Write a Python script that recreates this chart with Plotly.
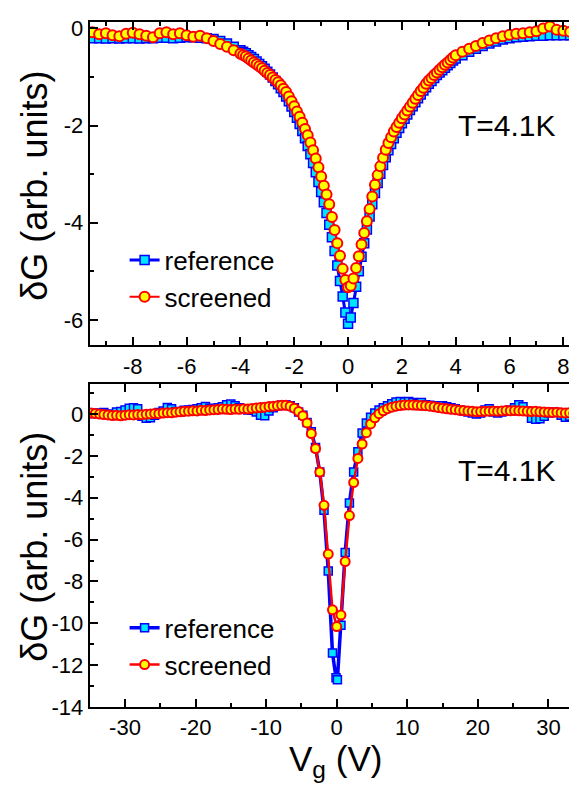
import plotly.graph_objects as go

FONT = "Liberation Sans, Arial, Helvetica, sans-serif"

# ---------------- top panel data (Vg in V, dG in arb. units) ----------------
VG_TOP = [
    -9.5, -9.25, -9.0, -8.75, -8.5, -8.25, -8.0, -7.75, -7.5, -7.25, -7.0,
    -6.75, -6.5, -6.25, -6.0, -5.75, -5.5, -5.25, -5.0, -4.75, -4.5, -4.25,
    -4.0, -3.9, -3.8, -3.7, -3.6, -3.5, -3.4, -3.3, -3.2, -3.1,
    -3.0, -2.9, -2.8, -2.7, -2.6, -2.5, -2.4, -2.3, -2.2, -2.1,
    -2.0, -1.9, -1.8, -1.7, -1.6, -1.5, -1.4, -1.3, -1.2, -1.1,
    -1.0, -0.9, -0.8, -0.7, -0.6, -0.5, -0.4, -0.3, -0.2, -0.1,
    0.0, 0.1, 0.2, 0.3, 0.4, 0.5, 0.6, 0.7, 0.8, 0.9,
    1.0, 1.1, 1.2, 1.3, 1.4, 1.5, 1.6, 1.7, 1.8, 1.9,
    2.0, 2.1, 2.2, 2.3, 2.4, 2.5, 2.6, 2.7, 2.8, 2.9,
    3.0, 3.1, 3.2, 3.3, 3.4, 3.5, 3.6, 3.7, 3.8, 3.9, 4.0,
    4.25, 4.5, 4.75, 5.0, 5.25, 5.5, 5.75, 6.0, 6.25, 6.5,
    6.75, 7.0, 7.25, 7.5, 7.75, 8.0, 8.25, 8.5, 8.75,
]

DG_TOP_REF = [
    -0.20, -0.20, -0.21, -0.20, -0.21, -0.20, -0.20, -0.21, -0.20, -0.20, -0.19,
    -0.19, -0.20, -0.19, -0.18, -0.18, -0.19, -0.20, -0.22, -0.26, -0.31, -0.38,
    -0.45, -0.48, -0.51, -0.55, -0.59, -0.63, -0.68, -0.73, -0.78, -0.83,
    -0.89, -0.95, -1.01, -1.08, -1.15, -1.23, -1.31, -1.40, -1.50, -1.61,
    -1.72, -1.84, -1.97, -2.11, -2.26, -2.42, -2.59, -2.77, -2.96, -3.16,
    -3.37, -3.58, -3.80, -4.04, -4.30, -4.58, -4.88, -5.20, -5.52, -5.85,
    -6.08, -5.95, -5.65, -5.32, -5.00, -4.70, -4.42, -4.14, -3.87, -3.62,
    -3.39, -3.18, -2.99, -2.81, -2.65, -2.51, -2.38, -2.26, -2.15, -2.05,
    -1.95, -1.86, -1.77, -1.68, -1.60, -1.52, -1.44, -1.36, -1.28, -1.21,
    -1.14, -1.08, -1.02, -0.96, -0.91, -0.86, -0.81, -0.76, -0.71, -0.66, -0.62,
    -0.55, -0.48, -0.42, -0.36, -0.31, -0.27, -0.23, -0.20, -0.18, -0.17,
    -0.16, -0.15, -0.15, -0.14, -0.14, -0.14, -0.14, -0.14, -0.14,
]

DG_TOP_SCR = [
    -0.08, -0.12, -0.10, -0.14, -0.16, -0.11, -0.09, -0.12, -0.15, -0.18, -0.10,
    -0.08, -0.12, -0.10, -0.14, -0.17, -0.15, -0.20, -0.26, -0.32, -0.38, -0.45,
    -0.52, -0.55, -0.58, -0.62, -0.66, -0.70, -0.74, -0.78, -0.82, -0.87,
    -0.92, -0.96, -1.01, -1.06, -1.11, -1.17, -1.24, -1.31, -1.40, -1.50,
    -1.60, -1.71, -1.82, -1.94, -2.07, -2.20, -2.35, -2.51, -2.68, -2.86,
    -3.05, -3.24, -3.42, -3.62, -3.88, -4.15, -4.42, -4.68, -4.95, -5.18,
    -5.33, -5.30, -5.15, -4.93, -4.69, -4.45, -4.21, -3.97, -3.72, -3.46,
    -3.22, -3.02, -2.84, -2.66, -2.50, -2.36, -2.24, -2.12, -2.03, -1.94,
    -1.85, -1.77, -1.69, -1.61, -1.53, -1.45, -1.37, -1.29, -1.22, -1.14,
    -1.07, -1.02, -0.96, -0.91, -0.85, -0.80, -0.75, -0.70, -0.65, -0.60, -0.55,
    -0.48, -0.42, -0.36, -0.30, -0.25, -0.20, -0.16, -0.13, -0.11, -0.10,
    -0.08, -0.06, 0.00, 0.04, -0.03, -0.05, -0.07, -0.09, -0.10,
]

# ---------------- bottom panel data ----------------
VG_BOT_SCR = [
    -34.8, -34.2, -33.6, -33.0, -32.4, -31.8, -31.2, -30.6, -30.0, -29.4,
    -28.8, -28.2, -27.6, -27.0, -26.4, -25.8, -25.2, -24.6, -24.0, -23.4,
    -22.8, -22.2, -21.6, -21.0, -20.4, -19.8, -19.2, -18.6, -18.0, -17.4,
    -16.8, -16.2, -15.6, -15.0, -14.4, -13.8, -13.2, -12.6, -12.0, -11.4,
    -10.8, -10.2, -9.6, -9.0, -8.4, -7.8, -7.2,
    -6.6, -6.0, -5.4, -4.8, -4.2, -3.6, -3.0, -2.4, -1.8, -1.2, -0.6,
    0.0, 0.6, 1.2, 1.8, 2.4, 3.0, 3.6, 4.2, 4.8, 5.4, 6.0,
    6.6, 7.2, 7.8, 8.4, 9.0, 9.6, 10.2, 10.8, 11.4, 12.0,
    12.6, 13.2, 13.8, 14.4, 15.0, 15.6, 16.2, 16.8, 17.4, 18.0,
    18.6, 19.2, 19.8, 20.4, 21.0, 21.6, 22.2, 22.8, 23.4, 24.0,
    24.6, 25.2, 25.8, 26.4, 27.0, 27.6, 28.2, 28.8, 29.4, 30.0,
    30.6, 31.2, 31.8, 32.4, 33.0, 33.6, 34.2, 34.8,
]

DG_BOT_SCR = [
    0.05, 0.03, 0.00, -0.02, -0.04, -0.07, -0.06, -0.08, -0.05, -0.03,
    -0.04, -0.02, -0.03, -0.01, 0.01, 0.03, 0.02, 0.05, 0.07, 0.06,
    0.09, 0.11, 0.13, 0.14, 0.16, 0.15, 0.18, 0.17, 0.20, 0.21,
    0.22, 0.24, 0.23, 0.22, 0.24, 0.23, 0.25, 0.24, 0.27, 0.29,
    0.31, 0.33, 0.36, 0.38, 0.40, 0.42, 0.42,
    0.38, 0.28, 0.12, -0.08, -0.42, -0.93, -1.65, -2.77, -4.36, -6.69, -9.36,
    -10.16, -9.61, -7.05, -4.85, -3.27, -2.12, -1.43, -0.89, -0.47, -0.18, 0.02,
    0.16, 0.26, 0.33, 0.38, 0.41, 0.43, 0.44, 0.43, 0.42, 0.41,
    0.40, 0.38, 0.35, 0.31, 0.28, 0.25, 0.23, 0.21, 0.18, 0.17,
    0.15, 0.13, 0.11, 0.12, 0.13, 0.14, 0.15, 0.14, 0.15, 0.17,
    0.16, 0.17, 0.16, 0.15, 0.13, 0.12, 0.13, 0.11, 0.10, 0.09,
    0.08, 0.09, 0.07, 0.05, 0.06, 0.03, -0.01, -0.03,
]

VG_BOT_REF = [
    -34.8, -34.2, -33.6, -33.0, -32.4, -31.8, -31.2, -30.6, -30.0, -29.4,
    -28.8, -28.2, -27.6, -27.0, -26.4, -25.8, -25.2, -24.6, -24.0, -23.4,
    -22.8, -22.2, -21.6, -21.0, -20.4, -19.8, -19.2, -18.6, -18.0, -17.4,
    -16.8, -16.2, -15.6, -15.0, -14.4, -13.8, -13.2, -12.6, -12.0, -11.4,
    -10.8, -10.2, -9.6, -9.0, -8.4, -7.8, -7.2,
    -6.6, -6.0, -5.4, -4.8, -4.2, -3.6, -3.0, -2.4, -1.8, -1.2, -0.6,
    -0.1, 0.1, 0.6, 1.2, 1.8, 2.4, 3.0, 3.6, 4.2, 4.8, 5.4, 6.0,
    6.6, 7.2, 7.8, 8.4, 9.0, 9.6, 10.2, 10.8, 11.4, 12.0,
    12.6, 13.2, 13.8, 14.4, 15.0, 15.6, 16.2, 16.8, 17.4, 18.0,
    18.6, 19.2, 19.8, 20.4, 21.0, 21.6, 22.2, 22.8, 23.4, 24.0,
    24.6, 25.2, 25.8, 26.4, 27.0, 27.6, 28.2, 28.8, 29.4, 30.0,
    30.6, 31.2, 31.8, 32.4, 33.0, 33.6, 34.2, 34.8,
]

DG_BOT_REF = [
    0.02, 0.05, 0.03, 0.08, 0.01, -0.05, 0.10, 0.12, 0.20, 0.28,
    0.30, 0.26, -0.10, -0.20, -0.18, -0.05, 0.08, 0.15, 0.32, 0.25,
    0.12, 0.10, 0.18, 0.20, 0.22, 0.25, 0.30, 0.36, 0.28, 0.24,
    0.30, 0.35, 0.45, 0.48, 0.40, 0.30, 0.26, 0.20, 0.18, 0.10,
    -0.05, -0.08, 0.15, 0.30, 0.40, 0.44, 0.45,
    0.40, 0.30, 0.10, -0.05, -0.40, -0.85, -1.60, -2.77, -4.60, -7.50, -11.42,
    -12.60, -12.70, -10.10, -6.62, -4.25, -2.77, -1.80, -0.90, -0.43, -0.15, 0.05, 0.20,
    0.30, 0.40, 0.50, 0.58, 0.60, 0.58, 0.60, 0.55, 0.50, 0.55,
    0.45, 0.42, 0.40, 0.38, 0.40, 0.35, 0.30, 0.25, 0.20, 0.15,
    0.10, 0.05, 0.00, 0.05, 0.20, 0.25, 0.10, 0.05, 0.10, 0.15,
    0.20, 0.30, 0.45, 0.35, 0.15, -0.20, -0.25, -0.22, -0.10, 0.05,
    0.10, 0.08, -0.05, -0.15, -0.10, -0.20, -0.28, -0.15,
]

SERIES_NAMES = ["reference", "screened"]
TEMP_LABEL = "T=4.1K"
Y_TITLE = "δG (arb. units)"
X_TITLE = "V<sub>g</sub> (V)"

TOP_X_TICKS = [-8, -6, -4, -2, 0, 2, 4, 6, 8]
TOP_Y_TICKS = [0, -2, -4, -6]
BOT_X_TICKS = [-30, -20, -10, 0, 10, 20, 30]
BOT_Y_TICKS = [0, -2, -4, -6, -8, -10, -12, -14]

W, H = 577, 790
BLUE, CYAN, RED, YELLOW = "#0000FF", "#00E5FF", "#FF0000", "#FFFF00"


def ref_style(lw, ms):
    return dict(line=dict(color=BLUE, width=lw),
                marker=dict(symbol="square", size=ms, color=CYAN,
                            line=dict(color=BLUE, width=1.5)))


def scr_style(lw, ms):
    return dict(line=dict(color=RED, width=lw),
                marker=dict(symbol="circle", size=ms, color=YELLOW,
                            line=dict(color=RED, width=2)))


fig = go.Figure()
fig.add_trace(go.Scatter(x=VG_TOP, y=DG_TOP_REF, mode="lines+markers", name=SERIES_NAMES[0],
                         xaxis="x", yaxis="y", legend="legend", **ref_style(3, 9)))
fig.add_trace(go.Scatter(x=VG_TOP, y=DG_TOP_SCR, mode="lines+markers", name=SERIES_NAMES[1],
                         xaxis="x", yaxis="y", legend="legend", **scr_style(2, 10)))
fig.add_trace(go.Scatter(x=VG_BOT_REF, y=DG_BOT_REF, mode="lines+markers", name=SERIES_NAMES[0],
                         xaxis="x2", yaxis="y2", legend="legend2", **ref_style(3.5, 8)))
fig.add_trace(go.Scatter(x=VG_BOT_SCR, y=DG_BOT_SCR, mode="lines+markers", name=SERIES_NAMES[1],
                         xaxis="x2", yaxis="y2", legend="legend2", **scr_style(2.5, 9)))

L = 82 / W
top_dom = [1 - 339.3 / H, 1 - 8.3 / H]
bot_dom = [1 - 710 / H, 1 - 379.3 / H]


def axis(dom, rng, ticks, minor_dtick, anchor):
    return dict(domain=dom, range=rng, anchor=anchor, tickmode="array", tickvals=ticks,
                ticktext=[str(t) for t in ticks], ticks="inside", ticklen=8, tickwidth=2,
                tickcolor="black", showline=True, linecolor="black", linewidth=2,
                mirror="allticks", showgrid=False, zeroline=False,
                tickfont=dict(family=FONT, size=22, color="black"),
                minor=dict(ticks="inside", ticklen=4, tickwidth=2, tickcolor="black",
                           dtick=minor_dtick, tick0=0, showgrid=False))


legend_common = dict(xanchor="left", yanchor="middle", bgcolor="rgba(0,0,0,0)",
                     borderwidth=0, font=dict(family=FONT, size=26, color="black"),
                     tracegroupgap=0)

fig.update_layout(
    width=W, height=H,
    margin=dict(l=0, r=0, t=0, b=0),
    paper_bgcolor="white", plot_bgcolor="white",
    font=dict(family=FONT, color="black"),
    xaxis=axis([L, 1], [-9.6, 8.73], TOP_X_TICKS, 1, "y"),
    yaxis=axis(top_dom, [-6.52, 0.13], TOP_Y_TICKS, 1, "x"),
    xaxis2=axis([L, 1], [-35.0, 34.9], BOT_X_TICKS, 5, "y2"),
    yaxis2=axis(bot_dom, [-14, 1.43], BOT_Y_TICKS, 1, "x2"),
    legend=dict(x=117 / W, y=1 - 271 / H, **legend_common),
    legend2=dict(x=117 / W, y=1 - 648 / H, **legend_common),
    showlegend=True,
)

ann_font = dict(family=FONT, color="black")
for yc in (114, 468):
    fig.add_annotation(text=TEMP_LABEL, xref="paper", yref="paper", x=552 / W, y=1 - yc / H,
                       xanchor="right", yanchor="middle", showarrow=False,
                       font=dict(size=30, **ann_font))
for yc in (176, 546):
    fig.add_annotation(text=Y_TITLE, xref="paper", yref="paper", x=27 / W, y=1 - yc / H,
                       xanchor="center", yanchor="middle", textangle=-90, showarrow=False,
                       font=dict(size=36, **ann_font))
fig.add_annotation(text=X_TITLE, xref="paper", yref="paper", x=329 / W, y=1 - 765 / H,
                   xanchor="center", yanchor="middle", showarrow=False,
                   font=dict(size=35, **ann_font))

fig.write_html("out.html")
